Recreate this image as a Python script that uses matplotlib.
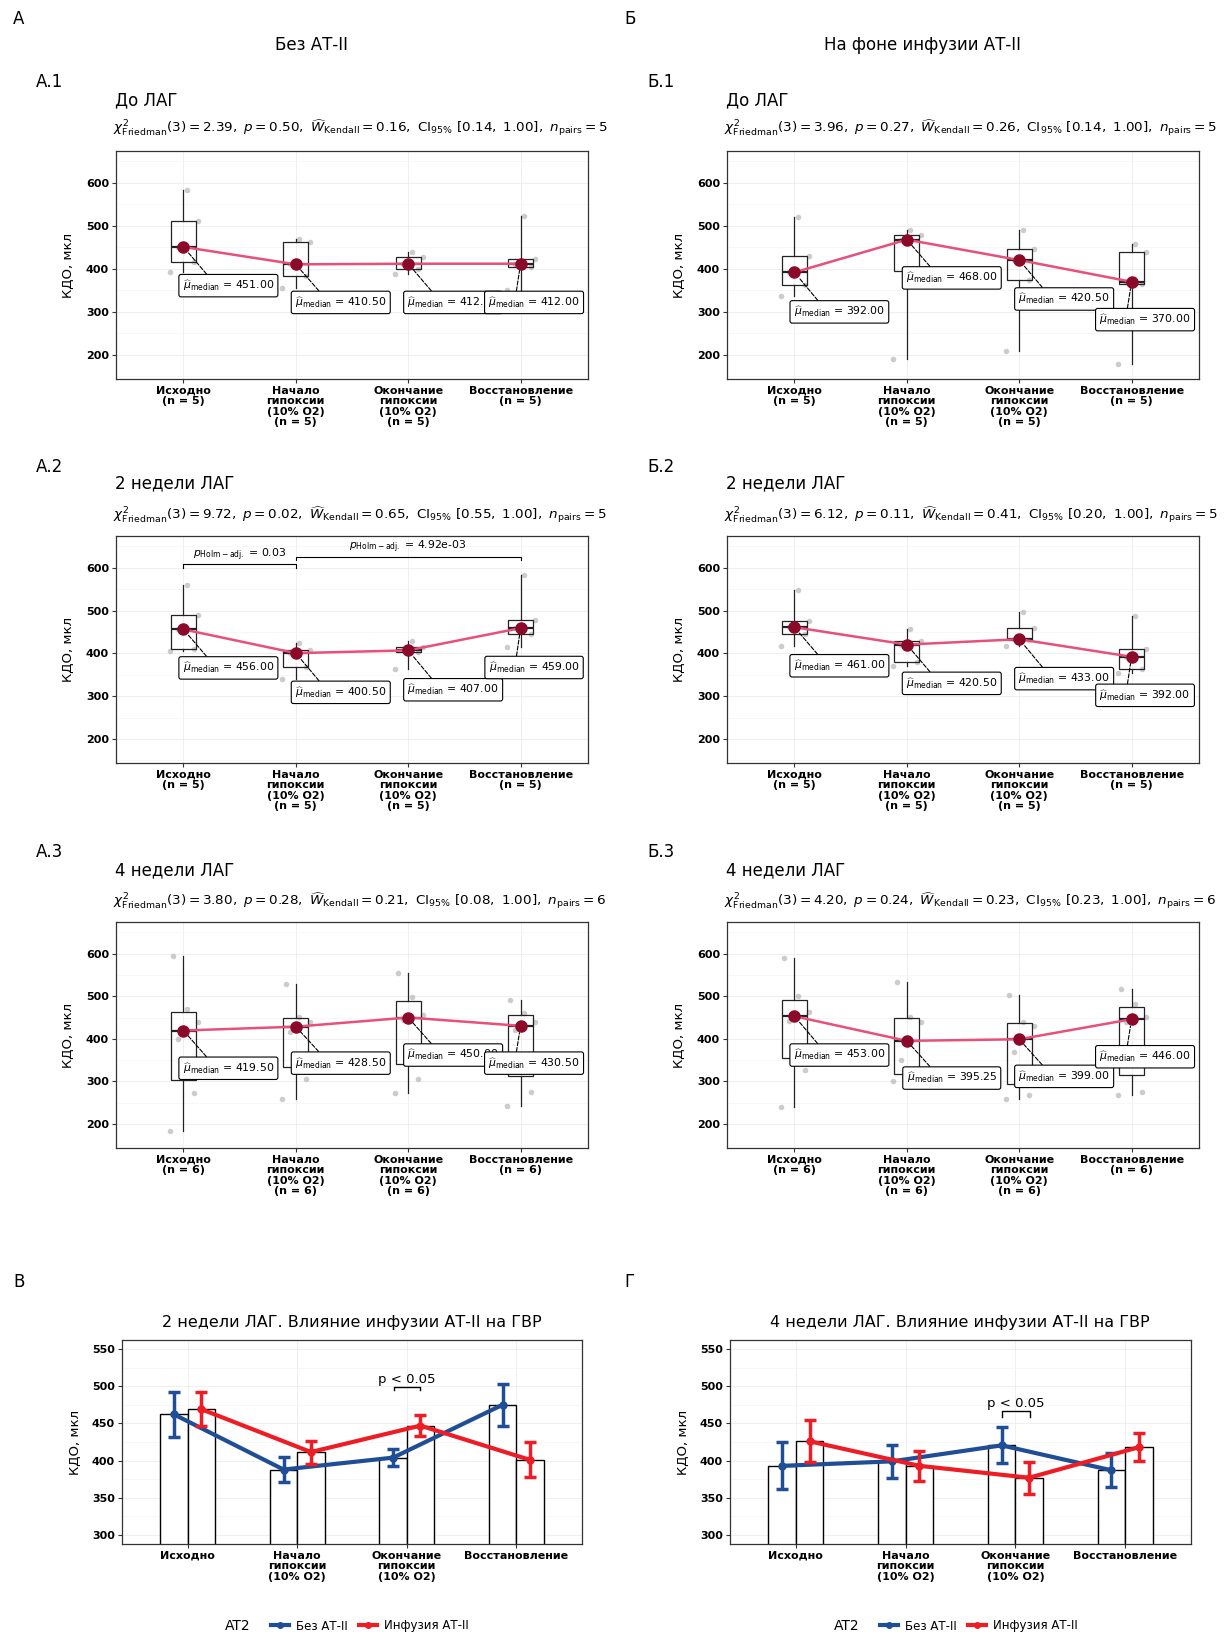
import matplotlib.pyplot as plt
from matplotlib.lines import Line2D
from matplotlib.ticker import MultipleLocator
import numpy as np

plt.rcParams['font.family'] = ['DejaVu Sans']
plt.rcParams['mathtext.fontset'] = 'dejavusans'

W, H = 1232, 1636

# ---------------- data ----------------
stages = ['Исходно', 'Начало\nгипоксии\n(10% O2)', 'Окончание\nгипоксии\n(10% O2)', 'Восстановление']
periods = ['До ЛАГ', '2 недели ЛАГ', '4 недели ЛАГ']
n_a = [5, 5, 6]
n_b = [5, 5, 6]

# Friedman test, rows: до ЛАГ / 2 недели / 4 недели
chi2_a = [2.39, 9.72, 3.80]
p_a = [0.50, 0.02, 0.28]
w_a = [0.16, 0.65, 0.21]
ci_a = [0.14, 0.55, 0.08]
chi2_b = [3.96, 6.12, 4.20]
p_b = [0.27, 0.11, 0.24]
w_b = [0.26, 0.41, 0.23]
ci_b = [0.14, 0.20, 0.23]

# КДО, мкл - individual animals per stage
a1 = [[393, 416, 451, 511, 583], [355, 384, 410.5, 462, 470],
      [388, 400, 412, 427, 440], [352, 404, 412, 423, 522]]
a2 = [[405, 410, 456, 489, 560], [340, 369, 400.5, 407, 424],
      [363, 402, 407, 415, 429], [414, 446, 459, 477, 584]]
a3 = [[185, 272, 400, 439, 471, 595], [258, 305, 417, 440, 452, 528],
      [273, 305, 445, 455, 499, 555], [242, 276, 421, 440, 461, 492]]
b1 = [[336, 362, 392, 429, 521], [191, 395, 468, 479, 491],
      [209, 374, 420.5, 447, 491], [178, 365, 370, 440, 457]]
b2 = [[417, 445, 461, 475, 548], [371, 380, 420.5, 428, 456],
      [417, 431, 433, 460, 497], [355, 363, 392, 410, 487]]
b3 = [[239, 327, 442, 464, 500, 590], [300, 307, 350, 440.5, 452, 534],
      [258, 269, 368, 430, 439, 503], [269, 275, 440, 452, 481, 517]]

# pairwise Holm-adjusted p (2 недели, без АТ-II)
holm_pairs = [(1, 2), (2, 4)]
holm_p = ['0.03', '4.92e-03']

# means +- SE for ГВР comparison
wk2_without = [462, 388, 404, 475]
wk2_without_se = [30, 17, 11.5, 28.5]
wk2_with = [469, 411.5, 447, 401]
wk2_with_se = [22.5, 15.5, 14, 23.5]
wk4_without = [393, 399, 420.5, 387]
wk4_without_se = [31.5, 22, 24, 23]
wk4_with = [426, 393, 377, 418]
wk4_with_se = [28, 20.5, 21.5, 19]

# ---------------- layout ----------------
fig = plt.figure(figsize=(W / 100, H / 100), dpi=100)
fig.patch.set_facecolor('white')


def px_axes(x0, y0, x1, y1):
    return fig.add_axes([x0 / W, 1 - y1 / H, (x1 - x0) / W, (y1 - y0) / H])


def ftext(x, y, s, **kw):
    kw.setdefault('va', 'center')
    fig.text(x / W, 1 - y / H, s, **kw)


col_x = [(116, 588), (727, 1199)]
row_y = [(151, 379), (536, 763), (922, 1148)]
letter_y = [82, 467, 852]
title_y = [100, 483, 870]
sub_y = [128, 515, 901]

# label placement (ggrepel-like)
lab_x = [1.40, 2.40, 3.40, 4.12]
lab_y_a = [[361, 322, 322, 322], [366, 309, 315, 367], [331, 343, 362, 343]]
lab_y_b = [[300, 379, 330, 282], [371, 330, 341, 302], [362, 308, 312, 358]]
jit = np.array([-0.12, 0.09, -0.05, 0.13, 0.03, -0.09])

PINK = '#E8507A'
DARKRED = '#8B0A2A'
BLUE = '#1F4E96'
RED = '#EE1C25'


def style(ax):
    for s in ax.spines.values():
        s.set_color('#333333')
        s.set_linewidth(0.9)
    ax.tick_params(length=3, width=0.8, color='#333333', labelsize=8, pad=2)
    ax.tick_params(which='minor', length=0)
    for lab in ax.get_yticklabels():
        lab.set_fontweight('bold')
    ax.grid(which='major', color='#ececec', lw=0.6)
    ax.grid(which='minor', axis='y', color='#f4f4f4', lw=0.5)
    ax.set_axisbelow(True)


def subtitle(chi, p, w, ci, n):
    return (r'$\chi^2_{\mathrm{Friedman}}(3) = ' + f'{chi:.2f}' + r',\ p = ' + f'{p:.2f}'
            + r',\ \widehat{W}_{\mathrm{Kendall}} = ' + f'{w:.2f}'
            + r',\ \mathrm{CI}_{95\%}\ [' + f'{ci:.2f}' + r',\ 1.00],\ n_{\mathrm{pairs}} = '
            + f'{n}' + '$')


def box_panel(ax, vals, n, lab_y):
    pos = np.arange(1, 5)
    med = [np.median(v) for v in vals]
    for i, v in enumerate(vals):
        ax.plot(pos[i] + jit[:len(v)], v, 'o', color='#9a9a9a', alpha=0.5, ms=4, mec='none', zorder=1)
    ax.boxplot(vals, positions=pos, widths=0.22, whis=(0, 100), showfliers=False, showcaps=False,
               patch_artist=True,
               boxprops=dict(facecolor='none', edgecolor='#222222', lw=0.9),
               medianprops=dict(color='#222222', lw=1.6),
               whiskerprops=dict(color='#222222', lw=0.9), zorder=2)
    ax.plot(pos, med, color=PINK, lw=1.8, zorder=3)
    ax.plot(pos, med, 'o', color=DARKRED, ms=8, zorder=4)
    for i in range(4):
        ax.annotate(r'$\widehat{\mu}_{\mathrm{median}}$' + f' = {med[i]:.2f}',
                    xy=(pos[i], med[i]), xytext=(lab_x[i], lab_y[i]),
                    ha='center', va='center', fontsize=7.8, zorder=5 + i,
                    bbox=dict(boxstyle='round,pad=0.35,rounding_size=0.2', fc='white', ec='black', lw=0.8),
                    arrowprops=dict(arrowstyle='-', ls='--', lw=0.8, color='black',
                                    relpos=(0.3, 1.0), shrinkA=0, shrinkB=5))
    ax.set_xlim(0.4, 4.6)
    ax.set_ylim(144, 674)
    ax.set_yticks([200, 300, 400, 500, 600])
    ax.yaxis.set_minor_locator(MultipleLocator(50))
    ax.set_xticks(pos, [f'{s}\n(n = {n})' for s in stages], fontweight='bold', linespacing=1.05)
    ax.set_ylabel('КДО, мкл', fontsize=9.5)
    ax.yaxis.set_label_coords(-0.087, 0.5)
    style(ax)
    return med


# column headers
ftext(13, 19, 'А', fontsize=12)
ftext(624, 19, 'Б', fontsize=12)
ftext(312, 45, 'Без АТ-II', fontsize=12, ha='center')
ftext(923, 45, 'На фоне инфузии АТ-II', fontsize=12, ha='center')

data_a = [a1, a2, a3]
data_b = [b1, b2, b3]
for r in range(3):
    for c, (col, data, n, chi, pp, ww, ci, lab_y) in enumerate([
            ('А', data_a, n_a, chi2_a, p_a, w_a, ci_a, lab_y_a),
            ('Б', data_b, n_b, chi2_b, p_b, w_b, ci_b, lab_y_b)]):
        x0, x1 = col_x[c]
        ax = px_axes(x0, row_y[r][0], x1, row_y[r][1])
        box_panel(ax, data[r], n[r], lab_y[r])
        ftext(x0 - 80, letter_y[r], f'{col}.{r + 1}', fontsize=12)
        ftext(x0 - 1, title_y[r], periods[r], fontsize=12)
        ftext(x0 - 3, sub_y[r], subtitle(chi[r], pp[r], ww[r], ci[r], n[r]), fontsize=9.7)
        if c == 0 and r == 1:
            for k, (i, j) in enumerate(holm_pairs):
                yb = 608 + 18 * k
                ax.plot([i, i, j, j], [yb - 8, yb, yb, yb - 8], color='black', lw=0.8)
                ax.text((i + j) / 2, yb + 4, r'$p_{\mathrm{Holm-adj.}}$' + f' = {holm_p[k]}',
                        ha='center', va='bottom', fontsize=7.8)


def bar_panel(ax, m0, e0, m1, e1, brk):
    pos = np.arange(1, 5)
    d = 0.125
    ax.bar(pos - d, m0, width=0.25, color='white', edgecolor='black', lw=1, zorder=2)
    ax.bar(pos + d, m1, width=0.25, color='white', edgecolor='black', lw=1, zorder=2)
    ax.errorbar(pos - d, m0, yerr=e0, color=BLUE, lw=3, marker='o', ms=5, capsize=4,
                capthick=2.5, elinewidth=2.5, zorder=3)
    ax.errorbar(pos + d, m1, yerr=e1, color=RED, lw=3, marker='o', ms=5, capsize=4,
                capthick=2.5, elinewidth=2.5, zorder=4)
    bx0, bx1, by, bt = brk
    ax.plot([bx0, bx0, bx1, bx1], [by - bt, by, by, by - bt], color='black', lw=1, zorder=5)
    ax.text((bx0 + bx1) / 2, by + 1, 'p < 0.05', ha='center', va='bottom', fontsize=9.5, zorder=5)
    ax.set_xlim(0.4, 4.6)
    ax.set_ylim(288, 562)
    ax.set_yticks([300, 350, 400, 450, 500, 550])
    ax.yaxis.set_minor_locator(MultipleLocator(25))
    ax.set_xticks(pos, stages, fontweight='bold', linespacing=1.05)
    ax.set_ylabel('КДО, мкл', fontsize=9.5)
    ax.yaxis.set_label_coords(-0.087, 0.5)
    style(ax)


ax_v = px_axes(122, 1340, 582, 1544)
bar_panel(ax_v, wk2_without, wk2_without_se, wk2_with, wk2_with_se, (2.88, 3.12, 499, 4))
ax_g = px_axes(730, 1340, 1191, 1544)
bar_panel(ax_g, wk4_without, wk4_without_se, wk4_with, wk4_with_se, (2.88, 3.13, 467, 8))

ftext(13, 1282, 'В', fontsize=12)
ftext(624, 1282, 'Г', fontsize=12)
ftext(352, 1322, '2 недели ЛАГ. Влияние инфузии АТ-II на ГВР', fontsize=11.5, ha='center')
ftext(960, 1322, '4 недели ЛАГ. Влияние инфузии АТ-II на ГВР', fontsize=11.5, ha='center')

handles = [Line2D([], [], color=BLUE, lw=3, marker='o', ms=4),
           Line2D([], [], color=RED, lw=3, marker='o', ms=4)]
labels = ['Без АТ-II', 'Инфузия АТ-II']
for lx, cx in [(225, 370), (834, 979)]:
    ftext(lx, 1626, 'AT2', fontsize=10)
    fig.legend(handles, labels, loc='center', bbox_to_anchor=(cx / W, 1 - 1626 / H), ncol=2,
               frameon=False, fontsize=8.5, handlelength=1.5, columnspacing=1.0, handletextpad=0.6)

fig.savefig('out.png', dpi=100, facecolor='white')
